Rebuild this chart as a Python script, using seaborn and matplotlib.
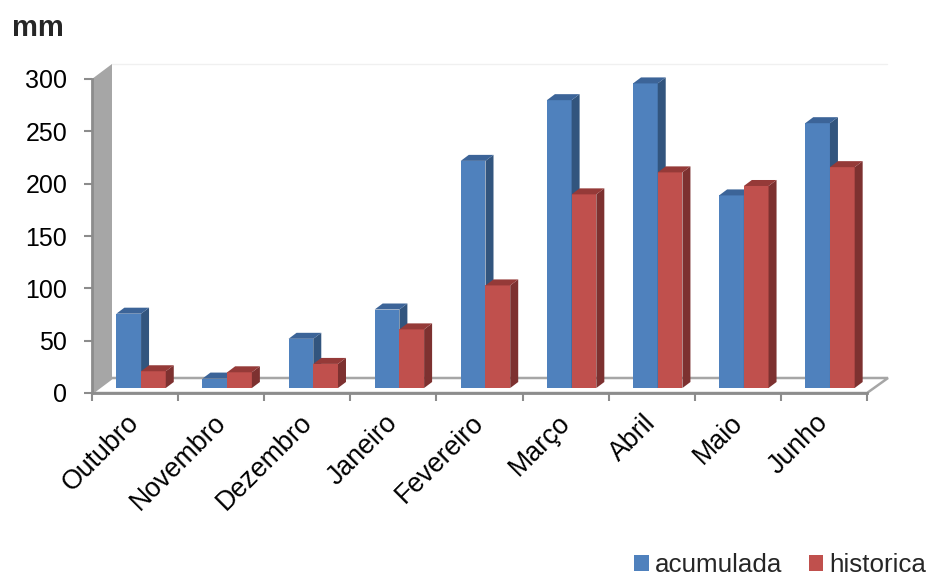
import numpy as np
import pandas as pd
import matplotlib
matplotlib.use('Agg')
import matplotlib.pyplot as plt
import seaborn as sns
from matplotlib.patches import Polygon, Patch
from matplotlib.transforms import IdentityTransform, offset_copy, ScaledTranslation
from matplotlib.lines import Line2D

# ---- data ----
meses = ['Outubro', 'Novembro', 'Dezembro', 'Janeiro', 'Fevereiro',
         'Março', 'Abril', 'Maio', 'Junho']
acumulada = [71, 9, 47, 75, 217, 275, 291, 184, 253]
historica = [16, 15, 23, 56, 98, 185, 206, 193, 211]
series = ['acumulada', 'historica']
yticks = [0, 50, 100, 150, 200, 250, 300]

sns.set_theme(style='white')
plt.rcParams['font.family'] = ['Liberation Sans', 'DejaVu Sans']

W, H = 929, 577
fig = plt.figure(figsize=(W / 100, H / 100), dpi=100)
ax = fig.add_axes([92 / W, (H - 393) / H, 775 / W, 314 / H])

df = pd.DataFrame({
    'mes': meses * 2,
    'valor': acumulada + historica,
    'serie': [series[0]] * len(meses) + [series[1]] * len(meses),
})

front = ['#4F81BD', '#C0504D']
side = ['#32557E', '#7D3130']
topc = ['#3C6498', '#953A38']

sns.barplot(data=df, x='mes', y='valor', hue='serie', order=meses,
            hue_order=series, palette=front, width=0.574, gap=0,
            saturation=1, linewidth=0, legend=False, ax=ax)
ax.set_xlim(-0.5, len(meses) - 0.5)
ax.set_ylim(0, 300)
ax.set_xlabel('')
ax.set_ylabel('')

# ---- floor and back wall (3D look) ----
DX, DY = 20, 15
x0f, y0f = ax.transAxes.transform((0, 0))
x1f, _ = ax.transAxes.transform((1, 0))
_, y1f = ax.transAxes.transform((0, 1))
idt = IdentityTransform()
floor = Polygon([(x0f, y0f), (x1f, y0f), (x1f + DX + 1, y0f + DY), (x0f + DX, y0f + DY)],
                closed=True, transform=idt, facecolor='white', edgecolor='#a6a6a6',
                lw=1.8, zorder=1, clip_on=False)
wall = Polygon([(x0f, y0f), (x0f, y1f), (x0f + DX, y1f + DY), (x0f + DX, y0f + DY)],
               closed=True, transform=idt, facecolor='#a6a6a6', edgecolor='none',
               zorder=1.2, clip_on=False)
ax.add_artist(floor)
ax.add_artist(wall)
ax.add_artist(Line2D([x0f + DX, x1f + DX], [y1f + DY, y1f + DY], transform=idt,
                     color='#f0f0f0', lw=1, zorder=0.5, clip_on=False))

# ---- bars: 3D side and top faces ----
FX, FY = 6, 5
BX, BY = 8, 6
tr_front = offset_copy(ax.transData, fig=fig, x=FX, y=FY, units='dots')
for i, cont in enumerate(ax.containers):
    for p in cont.patches:
        p.set_transform(tr_front)
        p.set_zorder(3 + i)
        p.set_clip_on(False)
        xb, wb, hb = p.get_x(), p.get_width(), p.get_height()
        (xl, yb), (xr, yt) = ax.transData.transform([(xb, 0), (xb + wb, hb)])
        xl += FX; xr += FX; yb += FY; yt += FY
        ax.add_artist(Polygon([(xr, yb), (xr, yt), (xr + BX, yt + BY), (xr + BX, yb + BY)],
                              closed=True, transform=idt, facecolor=side[i],
                              edgecolor='none', zorder=3 + i, clip_on=False))
        ax.add_artist(Polygon([(xl, yt), (xr, yt), (xr + BX, yt + BY), (xl + BX, yt + BY)],
                              closed=True, transform=idt, facecolor=topc[i],
                              edgecolor='none', zorder=3 + i, clip_on=False))

# ---- axes styling ----
for s in ['top', 'right']:
    ax.spines[s].set_visible(False)
for s in ['left', 'bottom']:
    ax.spines[s].set_color('#8c8c8c')
    ax.spines[s].set_linewidth(2)
    ax.spines[s].set_zorder(2)
ax.patch.set_alpha(0)

ax.set_yticks(yticks)
ax.set_yticklabels([str(v) for v in yticks])
ax.set_xticks(np.arange(-0.5, len(meses), 1))
ax.set_xticklabels([])
ax.set_xticks(np.arange(len(meses)), minor=True)
ax.set_xticklabels(meses, minor=True, rotation=45, ha='right', va='top')
ax.tick_params(axis='both', which='major', direction='out', length=5.8, width=1.5,
               color='#8c8c8c', labelsize=18, labelcolor='black', left=True, bottom=True)
ax.tick_params(axis='y', pad=12)
ax.tick_params(axis='x', which='minor', length=0, pad=12, labelsize=19.3,
               labelcolor='black', bottom=True)
shift = ScaledTranslation(7 / 72, 0, fig.dpi_scale_trans)
for lab in ax.get_xticklabels(minor=True):
    lab.set_transform(lab.get_transform() + shift)

fig.text(12 / W, 1 - 36 / H, 'mm', fontsize=21, fontweight='bold', va='baseline')

handles = [Patch(facecolor=front[0], edgecolor='none'),
           Patch(facecolor=front[1], edgecolor='none')]
fig.legend(handles=handles, labels=series, loc='lower right', bbox_to_anchor=(0.997, 0.0),
           ncol=2, frameon=False, fontsize=18.7, handlelength=0.55, handleheight=0.55,
           handletextpad=0.25, columnspacing=1.0, borderpad=0.0, borderaxespad=0.0)

fig.savefig('out.png', dpi=100)
